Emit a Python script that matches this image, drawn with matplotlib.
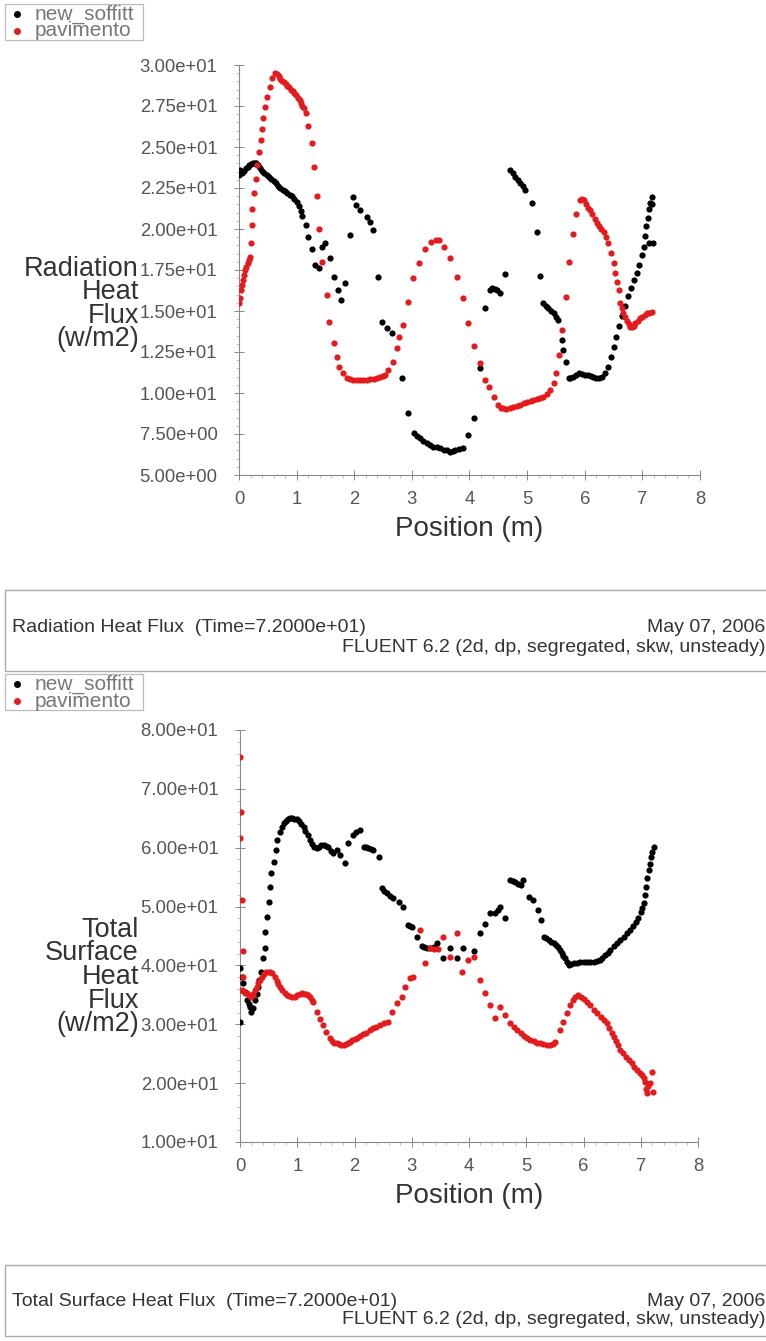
import matplotlib
matplotlib.use("Agg")
import matplotlib.pyplot as plt
from matplotlib.ticker import FuncFormatter, AutoMinorLocator, MultipleLocator
from matplotlib.patches import Rectangle
from matplotlib.lines import Line2D

plt.rcParams['font.family'] = ['Liberation Sans', 'DejaVu Sans']

# --- Radiation heat flux (top chart) ---
rad_soffitt_x = [0.00, 0.02, 0.04, 0.06, 0.09, 0.12, 0.15, 0.18, 0.21, 0.24, 0.27, 0.30, 0.33, 0.36,
                 0.40, 0.44, 0.48, 0.52, 0.56, 0.60, 0.64, 0.68, 0.72, 0.76, 0.80, 0.84, 0.88, 0.92,
                 0.96, 1.00, 1.04, 1.07, 1.10, 1.16, 1.20, 1.26, 1.32, 1.38, 1.44, 1.49, 1.58, 1.65,
                 1.71, 1.77, 1.84, 1.92, 1.98, 2.03, 2.10, 2.22, 2.27, 2.33, 2.42, 2.49, 2.56, 2.65,
                 2.82, 2.94, 3.03, 3.09, 3.14, 3.20, 3.26, 3.31, 3.37, 3.43, 3.49, 3.55, 3.61, 3.66,
                 3.72, 3.75, 3.82, 3.89, 3.98, 4.07, 4.18, 4.27, 4.36, 4.39, 4.44, 4.47, 4.53, 4.62,
                 4.70, 4.75, 4.79, 4.84, 4.88, 4.93, 4.97, 5.08, 5.17, 5.23, 5.28, 5.32, 5.37, 5.42,
                 5.46, 5.50, 5.54, 5.60, 5.63, 5.68, 5.72, 5.75, 5.80, 5.85, 5.90, 5.95, 6.00, 6.05,
                 6.10, 6.15, 6.20, 6.25, 6.30, 6.35, 6.40, 6.45, 6.50, 6.55, 6.60, 6.65, 6.70, 6.75,
                 6.80, 6.85, 6.90, 6.95, 7.00, 7.03, 7.05, 7.07, 7.09, 7.11, 7.13, 7.16, 7.17, 7.19,
                 7.12]
rad_soffitt_y = [23.3, 23.6, 23.5, 23.4, 23.55, 23.7, 23.8, 23.9, 23.95, 24.0, 24.0, 24.0, 23.9, 23.75,
                 23.55, 23.4, 23.3, 23.2, 23.05, 22.9, 22.8, 22.65, 22.5, 22.4, 22.3, 22.2, 22.1, 22.0,
                 21.85, 21.65, 21.4, 21.1, 20.8, 20.24, 19.53, 18.76, 17.8, 17.6, 18.92, 19.13, 18.21, 17.09,
                 16.28, 15.67, 16.69, 19.63, 21.97, 21.46, 21.16, 20.75, 20.45, 19.94, 17.09, 14.35, 13.94, 13.64,
                 10.9, 8.76, 7.54, 7.35, 7.24, 7.1, 6.93, 6.85, 6.73, 6.68, 6.63, 6.55, 6.5, 6.42,
                 6.48, 6.52, 6.6, 6.63, 7.44, 8.46, 11.5, 15.16, 16.3, 16.38, 16.35, 16.28, 16.08, 17.26,
                 23.6, 23.4, 23.19, 23.0, 22.79, 22.6, 22.38, 21.57, 19.84, 17.13, 15.47, 15.3, 15.16, 15.0,
                 14.86, 14.65, 14.45, 13.23, 12.62, 11.91, 10.9, 10.9, 11.0, 11.1, 11.2, 11.15, 11.1, 11.1,
                 11.05, 11.0, 10.9, 10.9, 11.0, 11.2, 11.6, 12.2, 12.8, 13.4, 14.1, 14.7, 15.3, 15.9,
                 16.4, 16.9, 17.3, 17.8, 18.4, 18.9, 19.6, 20.2, 20.7, 21.2, 21.6, 21.95, 21.5, 19.13,
                 19.13]

rad_pav_x = [0.00, 0.01, 0.03, 0.05, 0.07, 0.09, 0.11, 0.13, 0.15, 0.17, 0.19, 0.20, 0.22, 0.23,
             0.26, 0.29, 0.32, 0.35, 0.38, 0.40, 0.42, 0.45, 0.48, 0.53, 0.57, 0.63, 0.66, 0.69,
             0.72, 0.75, 0.78, 0.81, 0.84, 0.87, 0.90, 0.93, 0.96, 0.99, 1.02, 1.05, 1.08, 1.10,
             1.12, 1.16, 1.20, 1.26, 1.31, 1.36, 1.39, 1.44, 1.52, 1.57, 1.64, 1.70, 1.74, 1.80,
             1.87, 1.92, 1.98, 2.04, 2.10, 2.16, 2.22, 2.28, 2.34, 2.40, 2.45, 2.50, 2.53, 2.59,
             2.67, 2.74, 2.78, 2.84, 2.94, 3.02, 3.13, 3.23, 3.33, 3.42, 3.47, 3.55, 3.66, 3.78,
             3.89, 3.98, 4.08, 4.18, 4.27, 4.33, 4.42, 4.50, 4.55, 4.59, 4.64, 4.70, 4.76, 4.82,
             4.88, 4.94, 5.00, 5.06, 5.11, 5.17, 5.22, 5.28, 5.34, 5.40, 5.46, 5.50, 5.56, 5.60,
             5.68, 5.73, 5.79, 5.85, 5.91, 5.95, 5.98, 6.02, 6.06, 6.09, 6.13, 6.17, 6.21, 6.25,
             6.29, 6.33, 6.37, 6.41, 6.45, 6.50, 6.53, 6.56, 6.59, 6.61, 6.64, 6.67, 6.70, 6.73,
             6.76, 6.79, 6.82, 6.85, 6.88, 6.92, 6.96, 7.00, 7.04, 7.08, 7.12, 7.16]
rad_pav_y = [15.5, 15.8, 16.3, 16.6, 16.9, 17.2, 17.5, 17.7, 17.9, 18.1, 18.3, 19.17, 20.24, 21.2,
             22.18, 23.03, 23.9, 24.71, 25.43, 26.08, 26.75, 27.42, 28.07, 28.68, 29.19, 29.49, 29.45, 29.3,
             29.15, 29.05, 28.95, 28.85, 28.75, 28.65, 28.5, 28.4, 28.3, 28.15, 28.0, 27.85, 27.7, 27.5,
             27.36, 27.05, 26.28, 25.23, 23.8, 22.01, 19.98, 17.99, 15.98, 14.35, 13.07, 12.21, 11.6, 11.2,
             10.9, 10.85, 10.82, 10.8, 10.8, 10.8, 10.82, 10.85, 10.85, 10.9, 10.95, 11.05, 11.1, 11.4,
             11.91, 12.73, 13.43, 14.15, 15.57, 16.99, 17.91, 18.76, 19.23, 19.33, 19.3, 18.92, 18.21, 17.05,
             15.77, 14.29, 12.87, 11.81, 10.79, 10.38, 9.77, 9.27, 9.1, 9.07, 9.05, 9.1, 9.17, 9.2,
             9.28, 9.37, 9.45, 9.5, 9.57, 9.65, 9.7, 9.77, 9.95, 10.18, 10.59, 11.24, 12.32, 13.84,
             15.87, 18.01, 19.7, 20.91, 21.77, 21.8, 21.77, 21.5, 21.3, 21.16, 20.9, 20.6, 20.35, 20.2,
             20.0, 19.84, 19.5, 19.13, 18.52, 17.91, 17.34, 16.79, 16.28, 15.47, 15.2, 14.9, 14.65, 14.4,
             14.2, 14.04, 14.0, 14.1, 14.25, 14.4, 14.55, 14.65, 14.75, 14.86, 14.9, 14.96]

# --- Total surface heat flux (bottom chart) ---
tot_soffitt_x = [0.00, 0.00, 0.03, 0.06, 0.09, 0.12, 0.15, 0.17, 0.20, 0.23, 0.26, 0.29, 0.32, 0.34,
                 0.36, 0.40, 0.43, 0.44, 0.47, 0.50, 0.52, 0.55, 0.59, 0.63, 0.65, 0.70, 0.73, 0.76,
                 0.80, 0.84, 0.87, 0.91, 0.95, 0.99, 1.03, 1.07, 1.11, 1.14, 1.18, 1.22, 1.26, 1.30,
                 1.34, 1.38, 1.42, 1.46, 1.50, 1.54, 1.59, 1.63, 1.69, 1.75, 1.84, 1.89, 1.98, 2.02,
                 2.10, 2.16, 2.20, 2.24, 2.28, 2.33, 2.42, 2.48, 2.52, 2.56, 2.62, 2.68, 2.77, 2.84,
                 2.93, 2.97, 3.00, 3.09, 3.18, 3.22, 3.26, 3.32, 3.38, 3.44, 3.55, 3.67, 3.79, 3.89,
                 4.09, 4.20, 4.28, 4.37, 4.46, 4.50, 4.55, 4.63, 4.72, 4.77, 4.81, 4.86, 4.90, 4.95,
                 5.04, 5.12, 5.20, 5.26, 5.31, 5.35, 5.39, 5.44, 5.48, 5.52, 5.56, 5.59, 5.62, 5.65,
                 5.68, 5.71, 5.74, 5.78, 5.83, 5.88, 5.94, 6.00, 6.06, 6.12, 6.18, 6.23, 6.28, 6.32,
                 6.37, 6.42, 6.47, 6.53, 6.58, 6.64, 6.70, 6.76, 6.82, 6.87, 6.92, 6.96, 7.00, 7.03,
                 7.05, 7.07, 7.09, 7.11, 7.14, 7.16, 7.18, 7.20, 7.23]
tot_soffitt_y = [30.44, 39.5, 38.0, 36.97, 35.5, 34.2, 33.4, 32.99, 32.14, 32.8, 34.13, 35.2, 36.39, 37.6,
                 38.94, 41.2, 42.91, 45.74, 48.28, 50.83, 53.38, 55.65, 57.63, 59.61, 61.31, 62.73, 63.5, 64.15,
                 64.6, 64.9, 65.0, 65.0, 64.95, 64.83, 64.5, 64.1, 63.58, 62.9, 62.1, 61.31, 60.7, 60.2,
                 59.9, 60.1, 60.4, 60.46, 60.3, 60.18, 59.5, 59.05, 59.61, 58.76, 57.35, 60.75, 62.16, 62.7,
                 63.0, 60.18, 60.1, 59.9, 59.8, 59.61, 58.48, 53.1, 52.7, 52.25, 51.8, 51.4, 50.83, 49.87,
                 46.87, 46.7, 46.59, 44.89, 43.3, 43.1, 42.91, 43.0, 43.2, 43.76, 41.2, 42.91, 41.2, 42.91,
                 42.5, 45.47, 47.04, 48.85, 48.85, 49.5, 49.98, 48.0, 54.52, 54.4, 54.23, 53.9, 53.67, 54.52,
                 51.57, 51.12, 49.42, 47.72, 44.89, 44.6, 44.32, 44.0, 43.76, 43.5, 43.2, 42.6, 42.06, 41.6,
                 41.2, 40.6, 40.07, 40.2, 40.36, 40.45, 40.55, 40.64, 40.64, 40.64, 40.64, 40.8, 41.0, 41.2,
                 41.7, 42.1, 42.62, 43.3, 43.8, 44.32, 44.9, 45.5, 46.02, 46.7, 47.3, 48.0, 49.0, 49.8,
                 50.55, 51.9, 53.38, 54.8, 56.2, 57.3, 58.48, 59.3, 60.18]

tot_pav_x = [0.00, 0.01, 0.00, 0.03, 0.05, 0.06, 0.03, 0.06, 0.09, 0.12, 0.15, 0.18, 0.20, 0.23,
             0.26, 0.29, 0.32, 0.35, 0.38, 0.42, 0.46, 0.50, 0.52, 0.56, 0.61, 0.64, 0.67, 0.70,
             0.74, 0.78, 0.82, 0.86, 0.90, 0.96, 1.00, 1.04, 1.08, 1.12, 1.16, 1.19, 1.22, 1.25,
             1.28, 1.35, 1.40, 1.45, 1.50, 1.57, 1.61, 1.65, 1.69, 1.73, 1.77, 1.81, 1.85, 1.88,
             1.92, 1.96, 2.00, 2.05, 2.10, 2.15, 2.20, 2.27, 2.32, 2.38, 2.45, 2.52, 2.59, 2.65,
             2.74, 2.83, 2.88, 2.97, 3.03, 3.15, 3.23, 3.32, 3.38, 3.46, 3.55, 3.67, 3.79, 3.87,
             3.99, 4.08, 4.20, 4.28, 4.37, 4.46, 4.55, 4.63, 4.72, 4.78, 4.84, 4.90, 4.96, 5.02,
             5.07, 5.13, 5.18, 5.24, 5.30, 5.36, 5.42, 5.47, 5.51, 5.59, 5.65, 5.71, 5.76, 5.82,
             5.86, 5.91, 5.96, 6.01, 6.06, 6.12, 6.18, 6.24, 6.30, 6.36, 6.41, 6.45, 6.49, 6.53,
             6.57, 6.60, 6.64, 6.69, 6.74, 6.79, 6.84, 6.89, 6.94, 6.98, 7.02, 7.05, 7.08, 7.10,
             7.11, 7.13, 7.17, 7.20, 7.22]
tot_pav_y = [75.4, 66.0, 61.6, 51.2, 42.5, 38.1, 35.8, 35.6, 35.4, 35.26, 35.0, 34.8, 34.69, 35.2,
             35.8, 36.39, 37.0, 37.6, 38.09, 38.5, 38.8, 38.94, 38.94, 38.7, 38.09, 37.4, 36.9, 36.39,
             35.8, 35.3, 34.98, 34.8, 34.7, 34.69, 34.9, 35.1, 35.26, 35.2, 35.1, 34.98, 34.6, 34.2,
             33.84, 32.14, 30.84, 29.88, 28.74, 27.61, 27.2, 26.9, 26.76, 26.6, 26.5, 26.48, 26.6, 26.8,
             27.04, 27.25, 27.5, 27.75, 28.0, 28.3, 28.6, 29.03, 29.3, 29.6, 29.88, 30.15, 30.44, 32.14,
             33.56, 34.69, 36.39, 37.81, 38.1, 46.02, 40.36, 42.91, 42.8, 42.8, 44.9, 41.5, 45.47, 38.94,
             40.92, 41.5, 37.53, 35.26, 33.28, 31.02, 32.99, 31.58, 30.16, 29.6, 29.0, 28.46, 28.0, 27.6,
             27.33, 27.1, 26.9, 26.76, 26.6, 26.5, 26.48, 26.7, 27.04, 29.03, 30.44, 31.86, 33.28, 34.13,
             34.6, 34.98, 34.7, 34.3, 33.84, 33.2, 32.5, 31.86, 31.3, 30.7, 30.16, 29.4, 28.6, 27.9,
             27.1, 26.4, 25.64, 25.1, 24.5, 23.94, 23.4, 22.8, 22.24, 21.8, 21.3, 20.83, 20.2, 19.0,
             18.27, 19.5, 19.98, 21.95, 18.55]

x_ticks = [0, 1, 2, 3, 4, 5, 6, 7, 8]
legend_labels = ["new_soffitt", "pavimento"]

W, H = 766, 1341
BLACK = "#000000"
RED = "#e41a1c"
GRAY = "#555555"
MS = 20

fig = plt.figure(figsize=(W / 100, H / 100), dpi=100)


def fx(px):
    return px / W


def fy(py):
    return 1 - py / H


def box(l, t, r, b):
    return [l / W, 1 - b / H, (r - l) / W, (b - t) / H]


def style_axes(ax, ymin, ymax, ystep, ylabel, ylabel_y):
    ax.set_xlim(0, 8)
    ax.set_ylim(ymin, ymax)
    ax.set_xticks(x_ticks)
    ax.yaxis.set_major_locator(MultipleLocator(ystep))
    ax.yaxis.set_major_formatter(FuncFormatter(lambda v, p: f"{v:.2e}"))
    ax.xaxis.set_minor_locator(AutoMinorLocator(5))
    ax.yaxis.set_minor_locator(AutoMinorLocator(5))
    for s in ["top", "right"]:
        ax.spines[s].set_visible(False)
    for s in ["left", "bottom"]:
        ax.spines[s].set_color("#888888")
        ax.spines[s].set_linewidth(0.8)
    ax.tick_params(which="major", direction="inout", length=7, width=0.7, color="#888888",
                   labelsize=13.3, labelcolor=GRAY, pad=8)
    ax.tick_params(axis="y", which="major", pad=12)
    ax.tick_params(which="minor", direction="out", length=2.5, width=0.5, color="#aaaaaa")
    ax.set_xlabel("Position (m)", fontsize=20, color="#333333", labelpad=6)
    ax.patch.set_alpha(0)
    fig.text(fx(139), fy(ylabel_y), ylabel, ha="right", va="center", multialignment="right",
             fontsize=19.5, color="#333333", linespacing=0.88)


def add_legend(top):
    fig.patches.append(Rectangle((fx(5), fy(top + 36)), (143 - 5) / W, 36 / H,
                                 transform=fig.transFigure, fill=False, edgecolor="#bbbbbb", lw=0.9))
    for i, (lab, col) in enumerate(zip(legend_labels, [BLACK, RED])):
        yy = top + 10 + i * 17
        fig.add_artist(Line2D([fx(17)], [fy(yy)], transform=fig.transFigure, marker="o",
                              markersize=4.0, color=col, linestyle="none"))
        fig.text(fx(35), fy(yy), lab, fontsize=15, color="#777777", va="center", ha="left")


def add_footer(title, top, bottom, y1, y2):
    fig.patches.append(Rectangle((fx(5), fy(bottom)), (W + 10) / W, (bottom - top) / H,
                                 transform=fig.transFigure, fill=False, edgecolor="#aaaaaa", lw=1))
    fig.text(fx(12), fy(y1), title, fontsize=14, color="#333333", va="center", ha="left")
    fig.text(fx(765), fy(y1), "May 07, 2006", fontsize=14, color="#333333", va="center", ha="right")
    fig.text(fx(765), fy(y2), "FLUENT 6.2 (2d, dp, segregated, skw, unsteady)", fontsize=14,
             color="#333333", va="center", ha="right")


# top chart
ax1 = fig.add_axes(box(239, 65, 700, 475))
ax1.scatter(rad_soffitt_x, rad_soffitt_y, s=MS, color=BLACK, linewidths=0, zorder=3)
ax1.scatter(rad_pav_x, rad_pav_y, s=MS, color=RED, linewidths=0, zorder=3)
style_axes(ax1, 5, 30, 2.5, "Radiation\nHeat\nFlux\n(w/m2)", 304)
add_legend(4)
add_footer("Radiation Heat Flux  (Time=7.2000e+01)", 590, 671, 628, 648)

# bottom chart
ax2 = fig.add_axes(box(240, 730, 698, 1142))
ax2.scatter(tot_soffitt_x, tot_soffitt_y, s=MS, color=BLACK, linewidths=0, zorder=3)
ax2.scatter(tot_pav_x, tot_pav_y, s=MS, color=RED, linewidths=0, zorder=3)
style_axes(ax2, 10, 80, 10, "Total\nSurface\nHeat\nFlux\n(w/m2)", 977)
add_legend(674)
add_footer("Total Surface Heat Flux  (Time=7.2000e+01)", 1265, 1336, 1302, 1319)

fig.savefig("out.png", dpi=100)
